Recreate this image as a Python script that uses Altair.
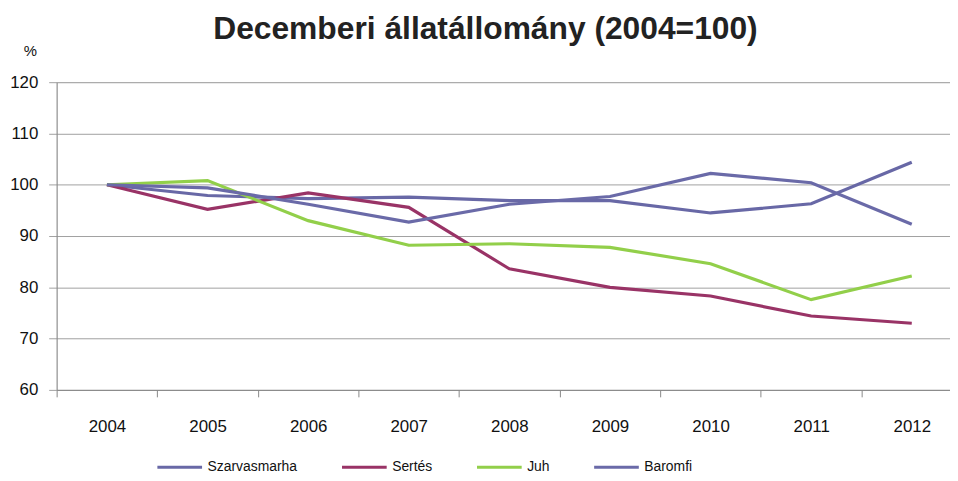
import altair as alt
import pandas as pd

years = [2004, 2005, 2006, 2007, 2008, 2009, 2010, 2011, 2012]
series_names = ["Szarvasmarha", "Sertés", "Juh", "Baromfi"]
szarvasmarha = [100, 97.9, 97.3, 97.6, 96.9, 96.9, 94.5, 96.3, 104.4]
sertes = [100, 95.2, 98.4, 95.6, 83.6, 80.0, 78.3, 74.4, 73.0]
juh = [100, 100.8, 93.0, 88.2, 88.5, 87.8, 84.6, 77.6, 82.2]
baromfi = [100, 99.4, 96.2, 92.7, 96.2, 97.7, 102.2, 100.4, 92.3]
colors = ["#6868A6", "#993366", "#92CF4A", "#6A6AA8"]

rows = []
for name, vals in zip(series_names, [szarvasmarha, sertes, juh, baromfi]):
    for y, v in zip(years, vals):
        rows.append({"sorozat": name, "ev": y, "ertek": v})
df = pd.DataFrame(rows)

step = 101.35
width = 900
x_domain = [2003.5, 2003.5 + width / step]
tick_values = [y + d for y in years for d in (-0.5, 0)]

font = "Liberation Sans"

chart = alt.Chart(df).mark_line(strokeWidth=3.2).encode(
    x=alt.X("ev:Q", scale=alt.Scale(domain=x_domain, nice=False, zero=False),
            axis=alt.Axis(values=tick_values, title=None, grid=False,
                          labelExpr="datum.value % 1 == 0 ? format(datum.value, 'd') : ''",
                          tickOpacity={"condition": {"test": "datum.value % 1 != 0", "value": 1}, "value": 0},
                          tickSize=7, tickColor="#888888", domainColor="#888888",
                          labelFontSize=17, labelFont=font, labelColor="#111111",
                          labelPadding=22, labelFlush=False)),
    y=alt.Y("ertek:Q", scale=alt.Scale(domain=[60, 120], nice=False, zero=False),
            axis=alt.Axis(values=[60, 70, 80, 90, 100, 110, 120], title="%",
                          titleAngle=0, titleX=-27, titleY=-32, titleAlign="center",
                          titleBaseline="middle", titleFontSize=15, titleFontWeight="normal",
                          titleFont=font, titleColor="#111111",
                          grid=True, gridColor="#A0A0A0", gridWidth=1,
                          tickSize=8, tickColor="#A0A0A0", domainColor="#888888",
                          labelFontSize=17, labelFont=font, labelColor="#111111",
                          labelPadding=11)),
    color=alt.Color("sorozat:N", sort=series_names,
                    scale=alt.Scale(domain=series_names, range=colors),
                    legend=alt.Legend(title=None, orient="none", direction="horizontal",
                                      legendX=100, legendY=364, columns=4,
                                      symbolType="stroke", symbolSize=2025,
                                      symbolStrokeWidth=3, labelFontSize=14,
                                      labelFont=font, labelColor="#111111",
                                      columnPadding=38, labelOffset=4)),
    detail="sorozat:N",
).properties(
    width=width, height=310,
    title=alt.TitleParams("Decemberi állatállomány (2004=100)", fontSize=32,
                          font=font, fontWeight="bold", color="#222222",
                          anchor="middle", dx=-18, dy=32, offset=30),
    autosize=alt.AutoSizeParams(type="none"),
    padding={"left": 49, "top": 73, "right": 0, "bottom": 82},
).configure_view(strokeWidth=0).configure(background="white")

chart.save("out.html", embed_options={"renderer": "svg", "actions": False})
